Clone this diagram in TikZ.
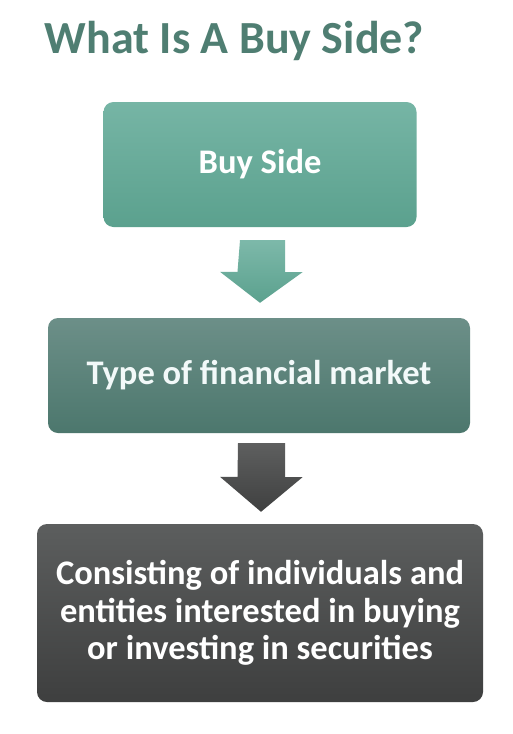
\documentclass[tikz,border=0pt]{standalone}
\usepackage{fontspec}
\setmainfont{Carlito}
\usetikzlibrary{calc}
\definecolor{titlecol}{HTML}{4F7E72}
\definecolor{tealtop}{HTML}{76B5A5}
\definecolor{tealbot}{HTML}{5BA18E}
\definecolor{dtealtop}{HTML}{6C8F88}
\definecolor{dtealbot}{HTML}{4C776D}
\definecolor{graytop}{HTML}{5C5E5E}
\definecolor{graybot}{HTML}{3E3F3F}
\definecolor{arrowgtop}{HTML}{5E5F5F}
\definecolor{arrowgbot}{HTML}{3F4040}
\tikzset{
  box/.style={rounded corners=10pt, inner sep=0pt, align=center, text=white,
    font=\fontsize{34.5}{37.5}\selectfont\bfseries},
  tealbox/.style={box, top color=tealtop, bottom color=tealbot},
  dtealbox/.style={box, top color=dtealtop, bottom color=dtealbot, text=white!95!teal},
  graybox/.style={box, top color=graytop, bottom color=graybot},
  tealarrow/.style={top color=tealtop!95!white, bottom color=tealbot},
  grayarrow/.style={top color=arrowgtop, bottom color=arrowgbot},
}
\begin{document}
\begin{tikzpicture}[x=1pt,y=-1pt]
\useasboundingbox[fill=white] (0,0) rectangle (512,734);
% title
\node[anchor=base, text=titlecol, font=\fontsize{46}{50}\selectfont\bfseries] (title) at (234.5,53) {What Is A Buy Side?};
% boxes
\node[tealbox, minimum width=313pt, minimum height=125pt] (b1) at (260,164.5) {Buy Side};
\node[dtealbox, minimum width=422pt, minimum height=115pt] (b2) at (259,375.5) {Type of financial market};
\node[graybox, minimum width=446pt, minimum height=178pt] (b3) at (260,613) {Consisting of individuals and\\entities interested in buying\\or investing in securities};
% arrow 1
\coordinate (a1s) at ($(b1.south)+(2.5,13)$);
\coordinate (a1e) at ($(b2.north)+(1,-15)$);
\path[tealarrow] (a1s) ++(-22.5,0) -- ++(45,0) -- ++(0,32) -- ++(17.5,0) -- (a1e) -- ++(-40,-31) -- ++(17.5,0) -- cycle;
% arrow 2
\coordinate (a2s) at ($(b2.south)+(2.5,10)$);
\coordinate (a2e) at ($(b3.north)+(1,-12)$);
\path[grayarrow] (a2s) ++(-23.5,0) -- ++(47,0) -- ++(0,34) -- ++(17.5,0) -- (a2e) -- ++(-41,-35) -- ++(17.5,0) -- cycle;
\end{tikzpicture}
\end{document}
